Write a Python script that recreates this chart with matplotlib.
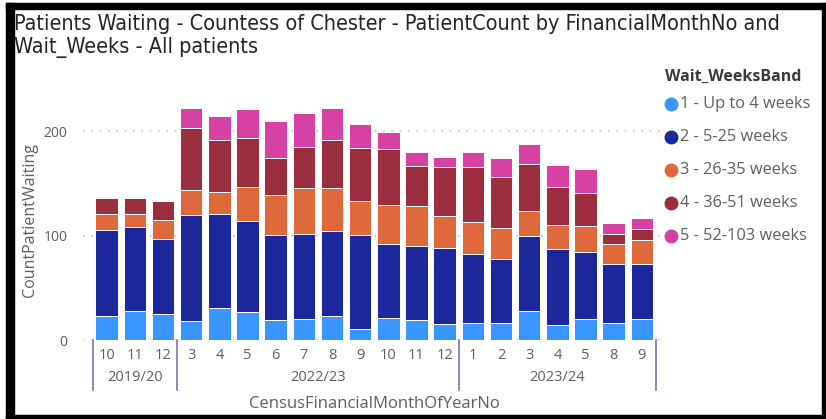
"""
plot.py — Patients waiting (Countess of Chester), stacked by wait band.

Writes out.png (826x419).
"""

import matplotlib
matplotlib.use("Agg")
import matplotlib.pyplot as plt
from matplotlib.patches import Rectangle
from matplotlib.transforms import blended_transform_factory
import numpy as np

# ── data ──────────────────────────────────────────────────────────────────────
months = ["10", "11", "12",
          "3", "4", "5", "6", "7", "8", "9", "10", "11", "12",
          "1", "2", "3", "4", "5", "8", "9"]
years = ["2019/20", "2022/23", "2023/24"]
months_per_year = [3, 10, 7]

bands = ["1 - Up to 4 weeks", "2 - 5-25 weeks", "3 - 26-35 weeks",
         "4 - 36-51 weeks", "5 - 52-103 weeks"]

up_to_4   = [23, 28, 25, 18, 31, 27, 19, 20, 23, 11, 21, 19, 15, 16, 16, 28, 14, 20, 16, 20]
wk_5_25   = [82, 80, 72, 102, 90, 87, 82, 82, 81, 90, 71, 71, 73, 66, 62, 72, 73, 64, 57, 53]
wk_26_35  = [16, 13, 18, 24, 21, 33, 38, 44, 42, 32, 37, 38, 31, 31, 29, 24, 23, 25, 19, 23]
wk_36_51  = [15, 15, 18, 59, 50, 47, 35, 39, 46, 51, 54, 39, 47, 53, 49, 45, 37, 32, 10, 10]
wk_52_103 = [0, 0, 0, 19, 23, 27, 36, 33, 30, 23, 16, 13, 9, 14, 18, 19, 21, 23, 10, 11]

COLORS = ["#3A96FF", "#1B279A", "#E0693C", "#9A2D3E", "#D841A4"]

# ── layout (pixels) ───────────────────────────────────────────────────────────
W, H, DPI = 826, 419, 100
AX_L, AX_R, AX_T, AX_B = 83, 663, 100, 340
GREY = "#605E5C"
SEP = "#7D72A8"
BODY = ["Open Sans", "DejaVu Sans"]
TITLE_1 = "Patients Waiting - Countess of Chester - PatientCount by FinancialMonthNo and"
TITLE_2 = "Wait_Weeks - All patients"
TITLE_W = 769   # px width of the first title line in the reference


def fy(py):
    return 1 - py / H


def fx(px):
    return px / W


def main():
    fig = plt.figure(figsize=(W / DPI, H / DPI), dpi=DPI)
    fig.patch.set_facecolor("white")
    ax = fig.add_axes([fx(AX_L), fy(AX_B), fx(AX_R - AX_L), (AX_B - AX_T) / H])

    series = [up_to_4, wk_5_25, wk_26_35, wk_36_51, wk_52_103]
    x = np.arange(len(months))
    bottom = np.zeros(len(months))
    for vals, col, lab in zip(series, COLORS, bands):
        ax.bar(x, vals, 0.8, bottom=bottom, color=col, edgecolor="white",
               linewidth=0.7, label=lab, zorder=3)
        bottom += np.array(vals)

    ax.set_xlim(-0.84, 19.75)
    ax.set_ylim(0, 230)
    ax.set_yticks([0, 100, 200])
    ax.yaxis.grid(True, ls=(0, (1, 4)), color="#C8C6C4", lw=1.2, zorder=0)
    ax.tick_params(axis="y", length=0, pad=11, labelsize=10, labelcolor=GREY)
    for t in ax.get_yticklabels():
        t.set_family(BODY)
    ax.set_xticks([])
    for s in ax.spines.values():
        s.set_visible(False)
    ax.set_ylabel("CountPatientWaiting", family=BODY, fontsize=11.5,
                  color=GREY, labelpad=4)

    # hierarchical x axis: months, then financial years with separators
    tr = blended_transform_factory(ax.transData, fig.transFigure)
    for i, m in enumerate(months):
        ax.text(i, fy(355), m, transform=tr, ha="center", va="center",
                fontsize=10.5, color=GREY, family=BODY, clip_on=False)
    edges = np.concatenate([[0], np.cumsum(months_per_year)]) - 0.5
    for e in edges:
        ax.plot([e, e], [fy(340), fy(390)], transform=tr, color=SEP,
                lw=1.2, clip_on=False)
    for lo, hi, yr in zip(edges[:-1], edges[1:], years):
        ax.text((lo + hi) / 2, fy(377), yr, transform=tr, ha="center",
                va="center", fontsize=10.5, color=GREY, family=BODY, clip_on=False)
    fig.text(fx(374), fy(404), "CensusFinancialMonthOfYearNo", ha="center",
             va="center", fontsize=12, color=GREY, family=BODY)

    # title — condensed face, size fitted to the reference line width
    t1 = fig.text(fx(14), fy(24), TITLE_1, ha="left", va="center", fontsize=15,
                  color="#252423", family="DejaVu Sans", stretch="condensed")
    t2 = fig.text(fx(14), fy(48), TITLE_2, ha="left", va="center", fontsize=15,
                  color="#252423", family="DejaVu Sans", stretch="condensed")
    r = fig.canvas.get_renderer()
    size = 15 * TITLE_W / t1.get_window_extent(r).width
    t1.set_fontsize(size)
    t2.set_fontsize(size)

    # legend
    fig.text(fx(665), fy(77), "Wait_WeeksBand", ha="left", va="center",
             fontsize=11.5, fontweight="bold", color="#3B3A39", family=BODY)
    for k, (lab, col) in enumerate(zip(bands, COLORS)):
        yy = fy(104 + 33 * k)
        fig.lines.append(plt.Line2D([fx(671)], [yy], marker="o", ms=9,
                                    color=col, transform=fig.transFigure))
        fig.text(fx(680), yy, lab, ha="left", va="center", fontsize=11.8,
                 color=GREY, family=BODY)

    # black frame around the visual
    for (x0, y0, w, h) in [(6, 3, 820, 6), (6, 3, 8, 416), (822, 3, 4, 416),
                           (6, 415, 820, 4)]:
        fig.patches.append(Rectangle((fx(x0), fy(y0 + h)), w / W, h / H,
                                     transform=fig.transFigure,
                                     color="black", zorder=10))

    fig.savefig("out.png", dpi=DPI)
    plt.close(fig)


if __name__ == "__main__":
    main()
